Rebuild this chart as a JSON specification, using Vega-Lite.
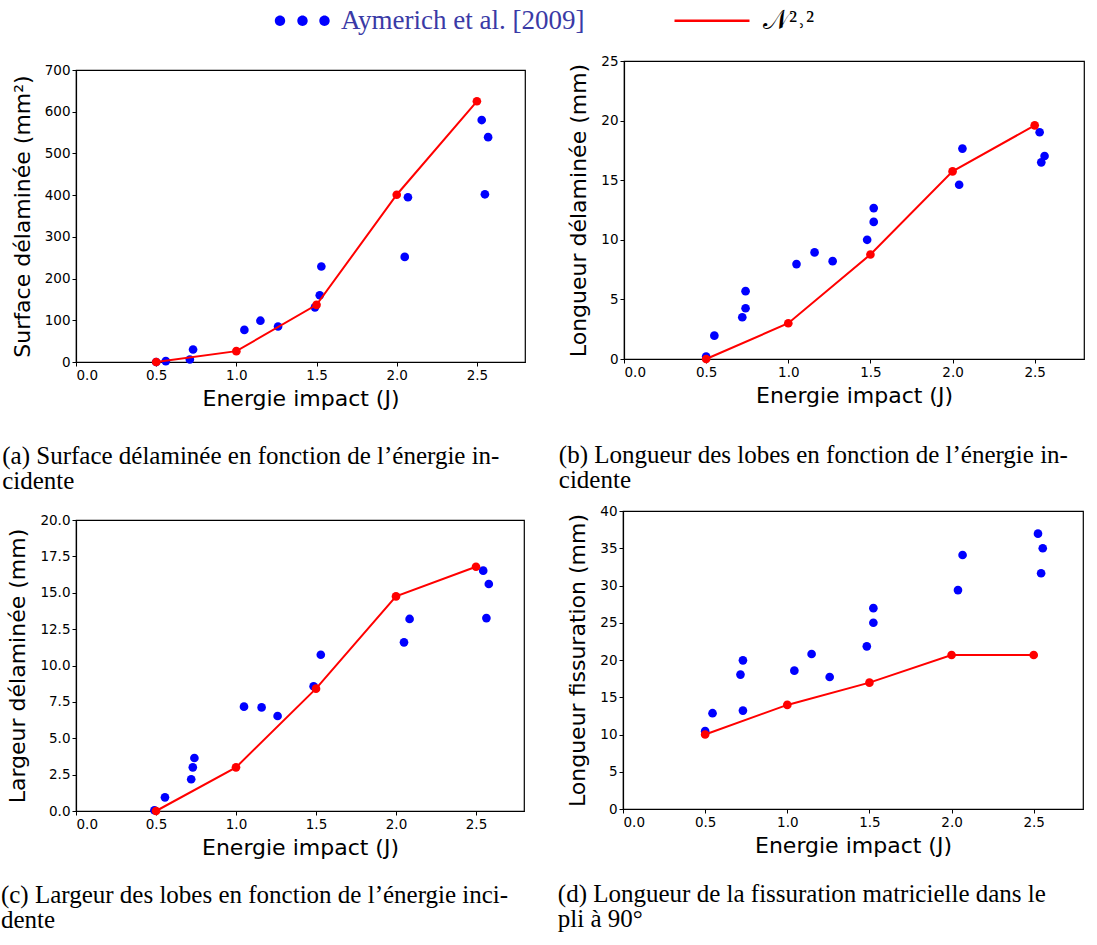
{
  "$schema": "https://vega.github.io/schema/vega-lite/v6.json",
  "background": "white",
  "padding": {"left": 0, "top": 7, "right": 2, "bottom": 2},
  "datasets": {
    "d": [
      {"p": "a", "s": "exp", "e": 0.50, "v": 0},
      {"p": "a", "s": "exp", "e": 0.56, "v": 2},
      {"p": "a", "s": "exp", "e": 0.71, "v": 6},
      {"p": "a", "s": "exp", "e": 0.73, "v": 30},
      {"p": "a", "s": "exp", "e": 1.05, "v": 77},
      {"p": "a", "s": "exp", "e": 1.15, "v": 99},
      {"p": "a", "s": "exp", "e": 1.26, "v": 85},
      {"p": "a", "s": "exp", "e": 1.49, "v": 131},
      {"p": "a", "s": "exp", "e": 1.52, "v": 160},
      {"p": "a", "s": "exp", "e": 1.53, "v": 229},
      {"p": "a", "s": "exp", "e": 2.05, "v": 252},
      {"p": "a", "s": "exp", "e": 2.07, "v": 395},
      {"p": "a", "s": "exp", "e": 2.53, "v": 580},
      {"p": "a", "s": "exp", "e": 2.57, "v": 539},
      {"p": "a", "s": "exp", "e": 2.55, "v": 402},
      {"p": "a", "s": "model", "e": 0.5, "v": 0},
      {"p": "a", "s": "model", "e": 1.0, "v": 26},
      {"p": "a", "s": "model", "e": 1.5, "v": 137},
      {"p": "a", "s": "model", "e": 2.0, "v": 401},
      {"p": "a", "s": "model", "e": 2.5, "v": 625},

      {"p": "b", "s": "exp", "e": 0.50, "v": 0.2},
      {"p": "b", "s": "exp", "e": 0.55, "v": 1.96},
      {"p": "b", "s": "exp", "e": 0.72, "v": 3.5},
      {"p": "b", "s": "exp", "e": 0.74, "v": 4.26},
      {"p": "b", "s": "exp", "e": 0.74, "v": 5.69},
      {"p": "b", "s": "exp", "e": 1.05, "v": 7.96},
      {"p": "b", "s": "exp", "e": 1.16, "v": 8.94},
      {"p": "b", "s": "exp", "e": 1.27, "v": 8.21},
      {"p": "b", "s": "exp", "e": 1.48, "v": 10.0},
      {"p": "b", "s": "exp", "e": 1.52, "v": 11.5},
      {"p": "b", "s": "exp", "e": 1.52, "v": 12.66},
      {"p": "b", "s": "exp", "e": 2.04, "v": 14.62},
      {"p": "b", "s": "exp", "e": 2.06, "v": 17.65},
      {"p": "b", "s": "exp", "e": 2.53, "v": 19.02},
      {"p": "b", "s": "exp", "e": 2.54, "v": 16.5},
      {"p": "b", "s": "exp", "e": 2.56, "v": 17.03},
      {"p": "b", "s": "model", "e": 0.5, "v": 0},
      {"p": "b", "s": "model", "e": 1.0, "v": 3.0},
      {"p": "b", "s": "model", "e": 1.5, "v": 8.77},
      {"p": "b", "s": "model", "e": 2.0, "v": 15.74},
      {"p": "b", "s": "model", "e": 2.5, "v": 19.6},

      {"p": "c", "s": "exp", "e": 0.49, "v": 0.05},
      {"p": "c", "s": "exp", "e": 0.556, "v": 0.94},
      {"p": "c", "s": "exp", "e": 0.72, "v": 2.18},
      {"p": "c", "s": "exp", "e": 0.73, "v": 3.0},
      {"p": "c", "s": "exp", "e": 0.74, "v": 3.64},
      {"p": "c", "s": "exp", "e": 1.05, "v": 7.17},
      {"p": "c", "s": "exp", "e": 1.16, "v": 7.12},
      {"p": "c", "s": "exp", "e": 1.26, "v": 6.53},
      {"p": "c", "s": "exp", "e": 1.485, "v": 8.57},
      {"p": "c", "s": "exp", "e": 1.53, "v": 10.74},
      {"p": "c", "s": "exp", "e": 2.05, "v": 11.59},
      {"p": "c", "s": "exp", "e": 2.085, "v": 13.2},
      {"p": "c", "s": "exp", "e": 2.545, "v": 16.52},
      {"p": "c", "s": "exp", "e": 2.58, "v": 15.6},
      {"p": "c", "s": "exp", "e": 2.565, "v": 13.26},
      {"p": "c", "s": "model", "e": 0.5, "v": 0},
      {"p": "c", "s": "model", "e": 1.0, "v": 3.0},
      {"p": "c", "s": "model", "e": 1.5, "v": 8.41},
      {"p": "c", "s": "model", "e": 2.0, "v": 14.75},
      {"p": "c", "s": "model", "e": 2.5, "v": 16.79},

      {"p": "d", "s": "exp", "e": 0.50, "v": 10.45},
      {"p": "d", "s": "exp", "e": 0.545, "v": 12.86},
      {"p": "d", "s": "exp", "e": 0.715, "v": 18.04},
      {"p": "d", "s": "exp", "e": 0.73, "v": 19.95},
      {"p": "d", "s": "exp", "e": 0.73, "v": 13.21},
      {"p": "d", "s": "exp", "e": 1.043, "v": 18.57},
      {"p": "d", "s": "exp", "e": 1.148, "v": 20.8},
      {"p": "d", "s": "exp", "e": 1.258, "v": 17.72},
      {"p": "d", "s": "exp", "e": 1.484, "v": 21.83},
      {"p": "d", "s": "exp", "e": 1.524, "v": 25.0},
      {"p": "d", "s": "exp", "e": 1.524, "v": 26.96},
      {"p": "d", "s": "exp", "e": 2.039, "v": 29.38},
      {"p": "d", "s": "exp", "e": 2.067, "v": 34.1},
      {"p": "d", "s": "exp", "e": 2.526, "v": 36.96},
      {"p": "d", "s": "exp", "e": 2.555, "v": 35.0},
      {"p": "d", "s": "exp", "e": 2.545, "v": 31.65},
      {"p": "d", "s": "model", "e": 0.5, "v": 10.0},
      {"p": "d", "s": "model", "e": 1.0, "v": 13.97},
      {"p": "d", "s": "model", "e": 1.5, "v": 16.96},
      {"p": "d", "s": "model", "e": 2.0, "v": 20.67},
      {"p": "d", "s": "model", "e": 2.5, "v": 20.67}
    ]
  },
  "data": {"name": "d"},
  "config": {
    "view": {"stroke": "black", "strokeWidth": 1.2},
    "axis": {
      "grid": false,
      "domainColor": "black",
      "domainWidth": 1.2,
      "tickColor": "black",
      "tickSize": 4,
      "labelColor": "black",
      "titleColor": "black",
      "labelFont": "DejaVu Sans",
      "titleFont": "DejaVu Sans",
      "labelFontSize": 13.5,
      "titleFontSize": 22,
      "titleFontWeight": "normal",
      "labelPadding": 2
    },
    "axisX": {"titlePadding": 7},
    "axisY": {"titlePadding": 10},
    "title": {
      "orient": "bottom",
      "anchor": "start",
      "frame": "bounds",
      "font": "Liberation Serif",
      "fontSize": 25,
      "fontWeight": "normal",
      "color": "black",
      "lineHeight": 25,
      "dx": -9
    },
    "legend": {
      "orient": "none",
      "legendX": 178,
      "legendY": -54,
      "direction": "horizontal",
      "title": null,
      "symbolSize": 100,
      "symbolStrokeWidth": 0,
      "symbolOpacity": 1,
      "labelFont": "Liberation Serif",
      "labelFontSize": 27,
      "labelOffset": 60,
      "columnPadding": 89,
      "labelLimit": 400
    }
  },
  "resolve": {"scale": {"color": "shared", "shape": "shared"}},
  "spacing": 8,
  "vconcat": [
    {
      "spacing": 32,
      "hconcat": [
        {
          "spacing": 0,
          "vconcat": [
            {"width": 449, "height": 0.01, "data": {"values": []}, "mark": "point", "view": {"stroke": null}},
            {
              "width": 449, "height": 292,
              "title": {"text": ["(a) Surface délaminée en fonction de l’énergie in-", "cidente"], "offset": 34},
              "transform": [{"filter": "datum.p == 'a'"}],
              "encoding": {
                "x": {"field": "e", "type": "quantitative", "scale": {"domain": [0, 2.8], "nice": false}, "axis": {"values": [0, 0.5, 1, 1.5, 2, 2.5], "format": ".1f", "title": "Energie impact (J)"}},
                "y": {"field": "v", "type": "quantitative", "scale": {"domain": [0, 700], "nice": false}, "axis": {"values": [0, 100, 200, 300, 400, 500, 600, 700], "title": "Surface délaminée (mm²)"}}
              },
              "layer": [
                {"transform": [{"filter": "false"}], "mark": {"type": "point", "filled": true, "opacity": 1},
                 "encoding": {
                   "color": {"field": "s", "type": "nominal", "scale": {"domain": ["exp", "model"], "range": ["#0000ff", "#ff0000"]},
                     "legend": {"labelExpr": "datum.value == 'exp' ? 'Aymerich et al. [2009]' : '𝒩²˒²'",
                       "labelColor": {"expr": "datum.value == 'exp' ? '#3a3aa6' : 'black'"}}},
                   "shape": {"field": "s", "type": "nominal",
                     "scale": {"domain": ["exp", "model"], "range": ["M1.46,0A1.04,1.04,0,1,0,3.54,0A1.04,1.04,0,1,0,1.46,0ZM5.96,0A1.04,1.04,0,1,0,8.04,0A1.04,1.04,0,1,0,5.96,0ZM10.36,0A1.04,1.04,0,1,0,12.44,0A1.04,1.04,0,1,0,10.36,0Z", "M-3,-0.26H12V0.26H-3Z"]},
                     "legend": {"labelExpr": "datum.value == 'exp' ? 'Aymerich et al. [2009]' : '𝒩²˒²'",
                       "labelColor": {"expr": "datum.value == 'exp' ? '#3a3aa6' : 'black'"}}}
                 }},
                {"transform": [{"filter": "datum.s == 'exp'"}], "mark": {"type": "point", "filled": true, "size": 75, "opacity": 1},
                 "encoding": {"color": {"field": "s", "type": "nominal"}}},
                {"transform": [{"filter": "datum.s == 'model'"}], "mark": {"type": "line", "color": "#ff0000", "strokeWidth": 2}, "encoding": {}},
                {"transform": [{"filter": "datum.s == 'model'"}], "mark": {"type": "point", "filled": true, "size": 75, "opacity": 1},
                 "encoding": {"color": {"field": "s", "type": "nominal"}}}
              ]
            }
          ]
        },
        {
          "width": 460, "height": 298,
          "title": {"text": ["(b) Longueur des lobes en fonction de l’énergie in-", "cidente"], "offset": 36},
          "transform": [{"filter": "datum.p == 'b'"}],
          "encoding": {
            "x": {"field": "e", "type": "quantitative", "scale": {"domain": [0, 2.8], "nice": false}, "axis": {"values": [0, 0.5, 1, 1.5, 2, 2.5], "format": ".1f", "title": "Energie impact (J)"}},
            "y": {"field": "v", "type": "quantitative", "scale": {"domain": [0, 25], "nice": false}, "axis": {"values": [0, 5, 10, 15, 20, 25], "title": "Longueur délaminée (mm)"}}
          },
          "layer": [
            {"transform": [{"filter": "datum.s == 'exp'"}], "mark": {"type": "point", "filled": true, "size": 75, "opacity": 1},
             "encoding": {"color": {"field": "s", "type": "nominal"}}},
            {"transform": [{"filter": "datum.s == 'model'"}], "mark": {"type": "line", "color": "#ff0000", "strokeWidth": 2}, "encoding": {}},
            {"transform": [{"filter": "datum.s == 'model'"}], "mark": {"type": "point", "filled": true, "size": 75, "opacity": 1},
             "encoding": {"color": {"field": "s", "type": "nominal"}}}
          ]
        }
      ]
    },
    {
      "spacing": 32,
      "hconcat": [
        {
          "spacing": 0,
          "vconcat": [
            {"width": 448, "height": 1, "data": {"values": []}, "mark": "point", "view": {"stroke": null}},
            {
              "width": 448, "height": 291,
              "title": {"text": ["(c) Largeur des lobes en fonction de l’énergie inci-", "dente"], "offset": 24, "dx": -6},
              "transform": [{"filter": "datum.p == 'c'"}],
              "encoding": {
                "x": {"field": "e", "type": "quantitative", "scale": {"domain": [0, 2.8], "nice": false}, "axis": {"values": [0, 0.5, 1, 1.5, 2, 2.5], "format": ".1f", "title": "Energie impact (J)"}},
                "y": {"field": "v", "type": "quantitative", "scale": {"domain": [0, 20], "nice": false}, "axis": {"values": [0, 2.5, 5, 7.5, 10, 12.5, 15, 17.5, 20], "format": ".1f", "title": "Largeur délaminée (mm)"}}
              },
              "layer": [
                {"transform": [{"filter": "datum.s == 'exp'"}], "mark": {"type": "point", "filled": true, "size": 75, "opacity": 1},
                 "encoding": {"color": {"field": "s", "type": "nominal"}}},
                {"transform": [{"filter": "datum.s == 'model'"}], "mark": {"type": "line", "color": "#ff0000", "strokeWidth": 2}, "encoding": {}},
                {"transform": [{"filter": "datum.s == 'model'"}], "mark": {"type": "point", "filled": true, "size": 75, "opacity": 1},
                 "encoding": {"color": {"field": "s", "type": "nominal"}}}
              ]
            }
          ]
        },
        {
          "width": 460, "height": 298,
          "title": {"text": ["(d) Longueur de la fissuration matricielle dans le", "pli à 90°"], "offset": 25},
          "transform": [{"filter": "datum.p == 'd'"}],
          "encoding": {
            "x": {"field": "e", "type": "quantitative", "scale": {"domain": [0, 2.8], "nice": false}, "axis": {"values": [0, 0.5, 1, 1.5, 2, 2.5], "format": ".1f", "title": "Energie impact (J)"}},
            "y": {"field": "v", "type": "quantitative", "scale": {"domain": [0, 40], "nice": false}, "axis": {"values": [0, 5, 10, 15, 20, 25, 30, 35, 40], "title": "Longueur fissuration (mm)"}}
          },
          "layer": [
            {"transform": [{"filter": "datum.s == 'exp'"}], "mark": {"type": "point", "filled": true, "size": 75, "opacity": 1},
             "encoding": {"color": {"field": "s", "type": "nominal"}}},
            {"transform": [{"filter": "datum.s == 'model'"}], "mark": {"type": "line", "color": "#ff0000", "strokeWidth": 2}, "encoding": {}},
            {"transform": [{"filter": "datum.s == 'model'"}], "mark": {"type": "point", "filled": true, "size": 75, "opacity": 1},
             "encoding": {"color": {"field": "s", "type": "nominal"}}}
          ]
        }
      ]
    }
  ]
}
